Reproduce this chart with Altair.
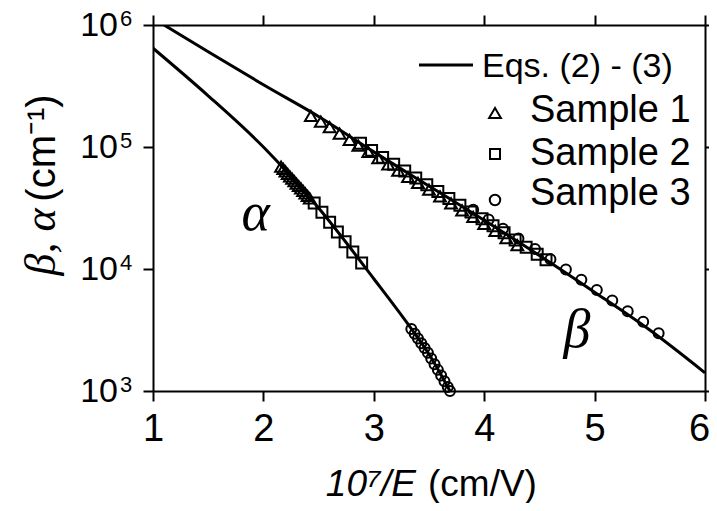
import altair as alt
import pandas as pd

# ---------------- data ----------------
alpha_line_x = [1.0, 1.5, 2.0, 2.5, 3.0, 3.3, 3.5, 3.69]
alpha_line_y = [645700, 263000, 100000, 31600, 8320, 3630, 2000, 1000]
beta_line_x = [1.1, 1.5, 2.0, 2.5, 3.0, 3.5, 4.0, 4.5, 5.0, 5.5, 6.0]
beta_line_y = [1000000, 602600, 323600, 177800, 91200, 47900, 25100, 12900, 6460, 3160, 1410]

# Sample 1 (triangles)
s1_alpha_x = [2.16, 2.18, 2.20, 2.22, 2.24, 2.26, 2.28, 2.30, 2.32, 2.34, 2.36, 2.38, 2.40, 2.42]
s1_alpha_y = [69200, 66100, 63100, 60300, 57500, 55000, 52500, 50100, 47900, 45700, 43600,
              41700, 39800, 38000]
s1_beta_x = [2.43, 2.52, 2.60, 2.69, 2.78, 2.86, 2.95, 3.04, 3.13, 3.22, 3.31, 3.40, 3.50,
             3.60, 3.70, 3.80, 3.90, 4.00, 4.10, 4.20, 4.30]
s1_beta_y = [180300, 161400, 145200, 128800, 114300, 102600, 91000, 80900, 71900, 64100, 57000,
             50800, 44700, 39300, 34500, 30300, 26700, 23400, 20500, 17900, 15700]

# Sample 2 (squares)
s2_alpha_x = [2.46, 2.53, 2.60, 2.67, 2.74, 2.81, 2.89]
s2_alpha_y = [34700, 29200, 24200, 20100, 16700, 13800, 11200]
s2_beta_x = [2.88, 2.98, 3.08, 3.18, 3.28, 3.38, 3.48, 3.58, 3.68, 3.78, 3.88, 3.98, 4.08,
             4.18, 4.28, 4.38, 4.48, 4.56]
s2_beta_y = [107200, 93800, 82200, 72300, 63500, 55800, 49100, 43200, 37900, 33300, 29300,
             25800, 22600, 19800, 17300, 15100, 13200, 11900]

# Sample 3 (circles)
s3_alpha_x = [3.34, 3.37, 3.40, 3.43, 3.46, 3.49, 3.52, 3.55, 3.58, 3.61, 3.64, 3.67, 3.69]
s3_alpha_y = [3220, 2940, 2690, 2460, 2250, 2060, 1850, 1660, 1490, 1340, 1200, 1080, 1000]
s3_beta_x = [3.90, 4.04, 4.17, 4.31, 4.46, 4.60, 4.74, 4.88, 5.02, 5.16, 5.30, 5.44, 5.58]
s3_beta_y = [30600, 25500, 21400, 17800, 14600, 12000, 9910, 8170, 6730, 5510, 4510, 3690, 2980]

sample_names = ["Sample 1", "Sample 2", "Sample 3"]
sample_shapes = ["triangle-up", "square", "circle"]
sample_sizes = [140, 100, 110]
legend_line_label = "Eqs. (2) - (3)"

curve_label_text = ["\u03b1", "\u03b2"]
curve_label_x = [1.93, 4.84]
curve_label_y = [20900, 2290]

x_ticks = [1, 2, 3, 4, 5, 6]
y_ticks = [1000, 10000, 100000, 1000000]
y_tick_base = ["10", "10", "10", "10"]
y_tick_exp = ["3", "4", "5", "6"]

# ---------------- tables ----------------
lines_df = pd.concat([
    pd.DataFrame({"x": alpha_line_x, "y": alpha_line_y, "curve": "alpha"}),
    pd.DataFrame({"x": beta_line_x, "y": beta_line_y, "curve": "beta"}),
], ignore_index=True)

pts = []
for name, xa, ya, xb, yb in [
    ("Sample 1", s1_alpha_x, s1_alpha_y, s1_beta_x, s1_beta_y),
    ("Sample 2", s2_alpha_x, s2_alpha_y, s2_beta_x, s2_beta_y),
    ("Sample 3", s3_alpha_x, s3_alpha_y, s3_beta_x, s3_beta_y),
]:
    pts.append(pd.DataFrame({"x": xa + xb, "y": ya + yb, "sample": name}))
pts_df = pd.concat(pts, ignore_index=True)

labels_df = pd.DataFrame({"x": curve_label_x, "y": curve_label_y, "t": curve_label_text})
ytl_df = pd.DataFrame({"y": y_ticks, "b": y_tick_base, "e": y_tick_exp})
one = pd.DataFrame({"k": [0]})

# ---------------- scales / axes ----------------
W, H = 552, 366
xs = alt.Scale(domain=[1, 6], nice=False, zero=False)
ys = alt.Scale(type="log", domain=[1000, 1000000], nice=False)

common = dict(title=None, grid=False, domainColor="black", domainWidth=2,
              tickColor="black", tickWidth=2, tickSize=10)

ax_bottom = alt.Axis(orient="bottom", values=x_ticks, format="d", labelFontSize=38,
                     labelFont="Liberation Sans", labelColor="black", labelPadding=9,
                     labelOffset=alt.condition("datum.value == 6", alt.value(-6), alt.value(0)),
                     labelFlush=False, labelOverlap=False, **common)
ax_left = alt.Axis(orient="left", values=y_ticks, labels=False, **common)
ax_top = alt.Axis(orient="top", values=x_ticks, labels=False, **common)
ax_right = alt.Axis(orient="right", values=y_ticks, labels=False, **common)

lines = alt.Chart(lines_df).mark_line(color="black", strokeWidth=3, interpolate="monotone",
                                       clip=True).encode(
    x=alt.X("x:Q", scale=xs, axis=ax_bottom),
    y=alt.Y("y:Q", scale=ys, axis=ax_left),
    detail="curve:N",
)

points = alt.Chart(pts_df).mark_point(filled=False, color="black", strokeWidth=2,
                                      opacity=1).encode(
    x=alt.X("x:Q", scale=xs, axis=ax_top),
    y=alt.Y("y:Q", scale=ys, axis=ax_right),
    shape=alt.Shape("sample:N", scale=alt.Scale(domain=sample_names, range=sample_shapes),
                    legend=None),
    size=alt.Size("sample:N", scale=alt.Scale(domain=sample_names, range=sample_sizes),
                  legend=None),
)

# y tick labels: "10" with a raised exponent
ytl_base = alt.Chart(ytl_df).mark_text(font="Liberation Sans", fontSize=34, color="black",
                                       align="right", baseline="middle", dy=1).encode(
    x=alt.value(-35), y=alt.Y("y:Q", scale=ys, axis=None), text="b:N")
ytl_exp = alt.Chart(ytl_df).mark_text(font="Liberation Sans", fontSize=22, color="black",
                                      align="left", baseline="alphabetic", dy=1).encode(
    x=alt.value(-33), y=alt.Y("y:Q", scale=ys, axis=None), text="e:N")

curve_labels = alt.Chart(labels_df).mark_text(
    font="Liberation Serif", fontStyle="italic", fontSize=54, color="black",
    align="center", baseline="alphabetic").encode(
    x=alt.X("x:Q", scale=xs, axis=None),
    y=alt.Y("y:Q", scale=ys, axis=None),
    text="t:N",
)


def txt(text, x, y, size, style="normal", font="Liberation Sans", align="left", angle=0):
    kw = dict(text=text, font=font, fontSize=size, fontStyle=style, color="black",
              align=align, baseline="alphabetic")
    if angle:
        kw["angle"] = angle
    return alt.Chart(one).mark_text(**kw).encode(x=alt.value(x), y=alt.value(y))


# legend
leg_line = alt.Chart(one).mark_rule(color="black", strokeWidth=3).encode(
    x=alt.value(266), x2=alt.value(320), y=alt.value(40))
leg_items = [leg_line, txt(legend_line_label, 329, 52, 34)]
for name, shp, sz, ym, yt in zip(sample_names, sample_shapes, sample_sizes,
                                 [88, 129, 175], [97, 140, 180]):
    leg_items.append(alt.Chart(one).mark_point(shape=shp, size=sz, filled=False, color="black",
                                               strokeWidth=2, opacity=1).encode(
        x=alt.value(342), y=alt.value(ym)))
    leg_items.append(txt(name, 377, yt, 38))

# axis titles
titles = [
    txt("10\u2077/E", 263, 471, 37, style="italic", align="right"),
    txt("(cm/V)", 275, 471, 37),
    txt("\u03b2, \u03b1", -98, 217, 44, style="italic", font="Liberation Serif",
        align="center", angle=270),
    txt("(cm\u207b\u00b9)", -98, 123, 40, align="center", angle=270),
]

chart = alt.layer(lines, points, ytl_base, ytl_exp, curve_labels, *leg_items, *titles).resolve_axis(
    x="independent", y="independent"
).properties(
    width=W, height=H,
    padding={"left": 145, "top": 17, "right": 4, "bottom": 112},
    autosize=alt.AutoSizeParams(type="none"),
).configure_view(stroke=None)

chart.save("out.html", embed_options={"renderer": "svg", "actions": False})
